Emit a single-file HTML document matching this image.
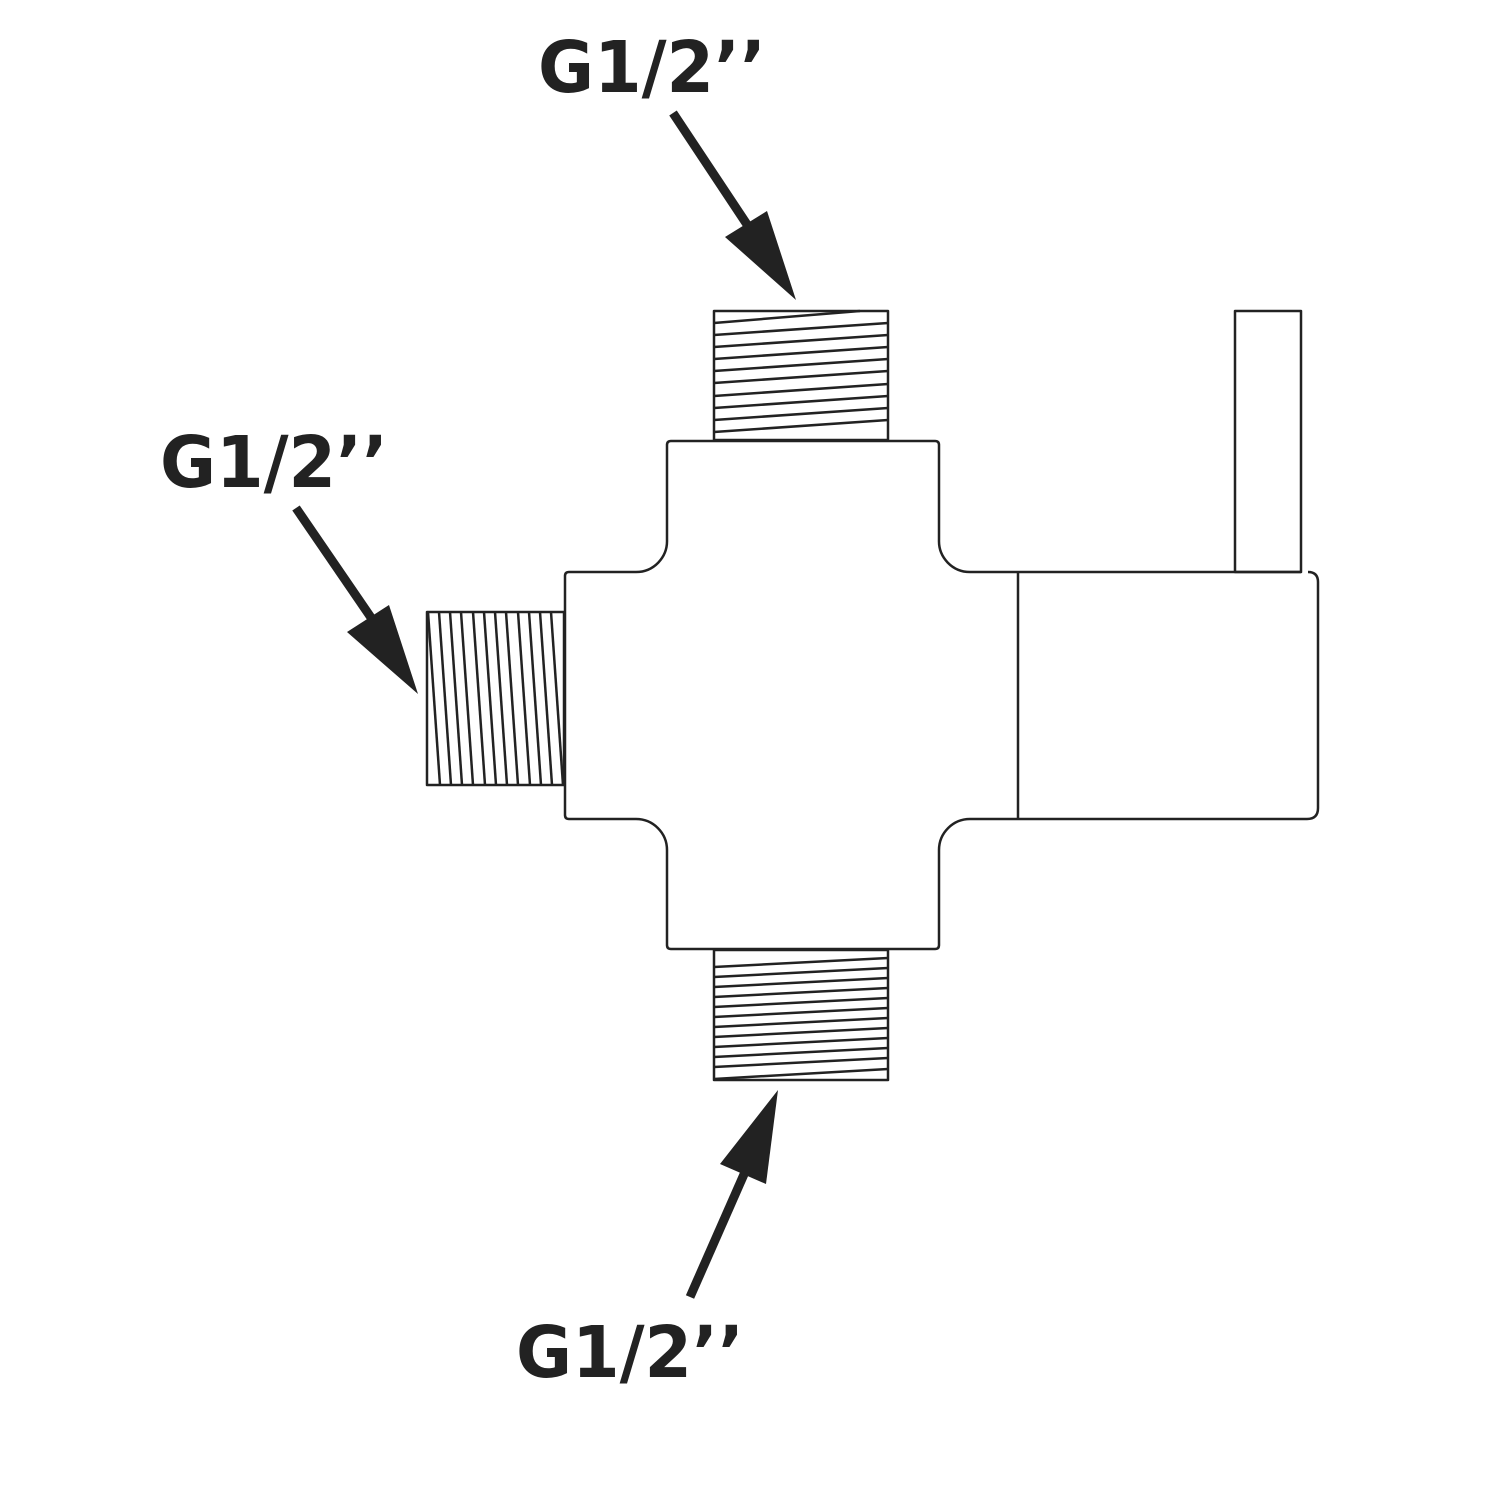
<!DOCTYPE html>
<html><head><style>html,body{margin:0;padding:0;background:#fff}svg{display:block}</style></head>
<body>
<svg width="1500" height="1500" viewBox="0 0 1500 1500" xmlns="http://www.w3.org/2000/svg">
<g fill="none" stroke="#222" stroke-width="2.5" stroke-linejoin="round">
<!-- body -->
<path d="M667,540 L667,445 Q667,441 671,441 L935,441 Q939,441 939,445 L939,540 A31,31 0 0 0 970,572 L1301,572"/>
<path d="M1308,572 Q1318,572 1318,582 L1318,808 Q1318,819 1307,819 L970,819 A31,31 0 0 0 939,850 L939,945 Q939,949 935,949 L671,949 Q667,949 667,945 L667,850 A31,31 0 0 0 636,819 L569,819 Q565,819 565,815 L565,576 Q565,572 569,572 L636,572 A31,31 0 0 0 667,540"/>
<line x1="1018" y1="572" x2="1018" y2="819"/>
<rect x="1235" y="311" width="66" height="261"/>
<!-- threads -->
<rect x="714" y="311" width="174" height="129"/>
<rect x="714" y="950" width="174" height="130"/>
<rect x="427" y="612" width="137" height="173"/>
</g>
<g stroke="#222" stroke-width="2.5">
<line x1="714" y1="323" x2="860" y2="311"/>
<line x1="714" y1="335" x2="888" y2="323"/>
<line x1="714" y1="347" x2="888" y2="335"/>
<line x1="714" y1="359" x2="888" y2="347"/>
<line x1="714" y1="371" x2="888" y2="359"/>
<line x1="714" y1="383" x2="888" y2="371"/>
<line x1="714" y1="396" x2="888" y2="384"/>
<line x1="714" y1="408" x2="888" y2="396"/>
<line x1="714" y1="420" x2="888" y2="408"/>
<line x1="714" y1="432" x2="888" y2="420"/>

<line x1="714" y1="967" x2="888" y2="958"/>
<line x1="714" y1="977" x2="888" y2="968"/>
<line x1="714" y1="987" x2="888" y2="978"/>
<line x1="714" y1="997" x2="888" y2="988"/>
<line x1="714" y1="1007" x2="888" y2="998"/>
<line x1="714" y1="1017" x2="888" y2="1008"/>
<line x1="714" y1="1027" x2="888" y2="1018"/>
<line x1="714" y1="1037" x2="888" y2="1028"/>
<line x1="714" y1="1047" x2="888" y2="1038"/>
<line x1="714" y1="1057" x2="888" y2="1048"/>
<line x1="714" y1="1067" x2="888" y2="1058"/>
<line x1="714" y1="1079" x2="888" y2="1069"/>

<line x1="428" y1="612" x2="440" y2="785"/>
<line x1="439" y1="612" x2="451" y2="785"/>
<line x1="450" y1="612" x2="462" y2="785"/>
<line x1="461" y1="612" x2="473" y2="785"/>
<line x1="473" y1="612" x2="485" y2="785"/>
<line x1="484" y1="612" x2="496" y2="785"/>
<line x1="495" y1="612" x2="507" y2="785"/>
<line x1="506" y1="612" x2="518" y2="785"/>
<line x1="518" y1="612" x2="530" y2="785"/>
<line x1="529" y1="612" x2="541" y2="785"/>
<line x1="540" y1="612" x2="552" y2="785"/>
<line x1="551" y1="612" x2="563" y2="785"/>
</g>
<!-- arrows -->
<g stroke="#222" stroke-width="9">
<line x1="673" y1="113" x2="748" y2="226"/>
<line x1="296" y1="508" x2="372" y2="619"/>
<line x1="690" y1="1297" x2="745" y2="1172"/>
</g>
<g fill="#222">
<polygon points="796,300 725,237 767,211"/>
<polygon points="418,694 347,632 389,605"/>
<polygon points="778,1090 720,1164 766,1184"/>
</g>
<g font-family="'DejaVu Sans','Liberation Sans',sans-serif" font-weight="bold" font-size="71" fill="#222">
<text x="538" y="92" textLength="228" lengthAdjust="spacingAndGlyphs">G1/2’’</text>
<text x="160" y="487" textLength="228" lengthAdjust="spacingAndGlyphs">G1/2’’</text>
<text x="516" y="1377" textLength="228" lengthAdjust="spacingAndGlyphs">G1/2’’</text>
</g>
</svg>
</body></html>
